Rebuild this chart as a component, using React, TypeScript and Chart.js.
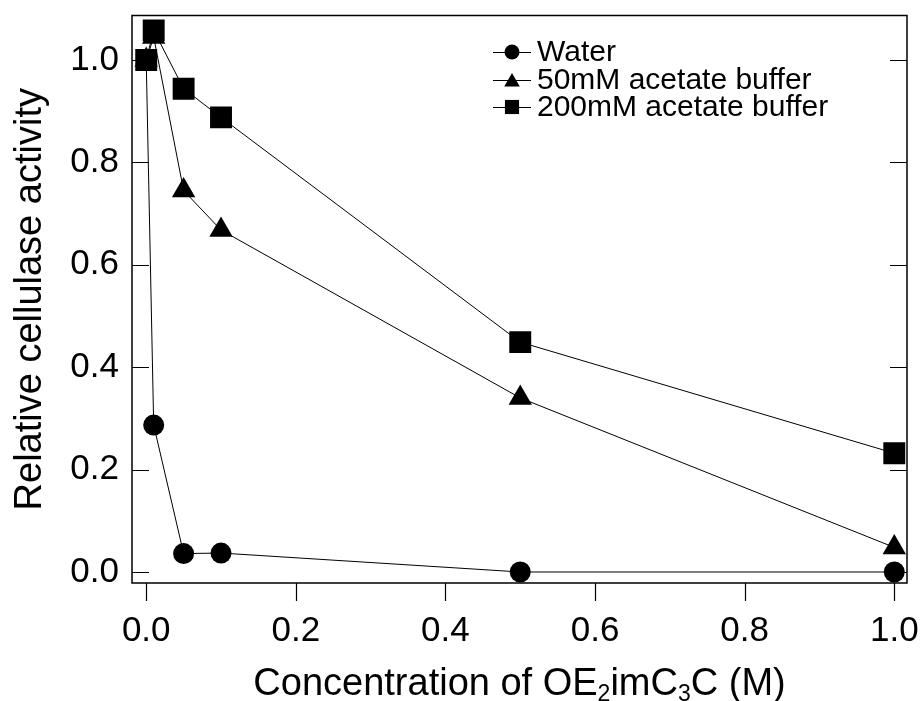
import React, { useEffect, useRef } from "react";
import { Chart, registerables } from "chart.js";

Chart.register(...registerables);

// Concentration of OE2imC3C (M)
const concentrations = [0, 0.01, 0.05, 0.1, 0.5, 1.0];

// Relative cellulase activity per medium
const waterActivity = [1.0, 0.287, 0.036, 0.037, 0.0, 0.0];
const acetate50Activity = [1.0, 1.045, 0.745, 0.668, 0.34, 0.048];
const acetate200Activity = [1.0, 1.058, 0.944, 0.888, 0.449, 0.232];

const seriesNames = ["Water", "50mM acetate buffer", "200mM acetate buffer"];
const seriesMarkers = ["circle", "triangle", "rect"];

const FONT = '"Liberation Sans", Arial, Helvetica, sans-serif';
const W = 923;
const H = 701;

function drawMarker(ctx: CanvasRenderingContext2D, style: string, x: number, y: number, r: number) {
  ctx.beginPath();
  if (style === "circle") {
    ctx.arc(x, y, r, 0, Math.PI * 2);
  } else if (style === "triangle") {
    const hw = r * Math.sin((2 * Math.PI) / 3);
    ctx.moveTo(x, y - r);
    ctx.lineTo(x + hw, y + r / 2);
    ctx.lineTo(x - hw, y + r / 2);
    ctx.closePath();
  } else {
    const s = r * Math.SQRT1_2;
    ctx.rect(x - s, y - s, 2 * s, 2 * s);
  }
  ctx.fill();
}

const framePlugin = {
  id: "frameAndDecor",
  afterDraw(chart: any) {
    const ctx: CanvasRenderingContext2D = chart.ctx;
    const { left, right, top, bottom } = chart.chartArea;
    const xs = chart.scales.x;
    const ys = chart.scales.y;
    ctx.save();
    ctx.strokeStyle = "#000";
    ctx.fillStyle = "#000";

    // plot frame
    ctx.lineWidth = 1.5;
    ctx.strokeRect(left, top, right - left, bottom - top);

    // y ticks point inward on both sides
    ctx.lineWidth = 1.2;
    ys.ticks.forEach((t: any) => {
      const py = Math.round(ys.getPixelForValue(t.value)) + 0.5;
      ctx.beginPath();
      ctx.moveTo(left, py);
      ctx.lineTo(left + 17, py);
      ctx.moveTo(right, py);
      ctx.lineTo(right - 17, py);
      ctx.stroke();
    });

    // x ticks point outward below the frame
    xs.ticks.forEach((t: any) => {
      const px = Math.round(xs.getPixelForValue(t.value)) + 0.5;
      ctx.beginPath();
      ctx.moveTo(px, bottom);
      ctx.lineTo(px, bottom + 18);
      ctx.stroke();
    });

    // legend: line segment with marker, then label
    const lx0 = 493;
    const lx1 = 531;
    const rows = [52, 80, 107];
    ctx.font = `30px ${FONT}`;
    ctx.textBaseline = "middle";
    ctx.textAlign = "left";
    seriesNames.forEach((name, i) => {
      const y = rows[i];
      ctx.lineWidth = 1;
      ctx.beginPath();
      ctx.moveTo(lx0, y + 0.5);
      ctx.lineTo(lx1, y + 0.5);
      ctx.stroke();
      const r = i === 0 ? 7.5 : i === 1 ? 9 : 10;
      drawMarker(ctx, seriesMarkers[i], (lx0 + lx1) / 2, i === 1 ? y + 2 : y, r);
      ctx.fillText(name, 537, y + 1);
    });

    // x-axis title with subscripts
    const parts: [string, boolean][] = [
      ["Concentration of OE", false],
      ["2", true],
      ["imC", false],
      ["3", true],
      ["C (M)", false],
    ];
    const mainFont = `38px ${FONT}`;
    const subFont = `23px ${FONT}`;
    let total = 0;
    parts.forEach(([s, sub]) => {
      ctx.font = sub ? subFont : mainFont;
      total += ctx.measureText(s).width;
    });
    let cx = (left + right) / 2 - total / 2;
    const baseY = 695;
    ctx.textBaseline = "alphabetic";
    parts.forEach(([s, sub]) => {
      ctx.font = sub ? subFont : mainFont;
      ctx.fillText(s, cx, sub ? baseY + 6 : baseY);
      cx += ctx.measureText(s).width;
    });

    // y-axis title, rotated
    ctx.save();
    ctx.translate(41, (top + bottom) / 2);
    ctx.rotate(-Math.PI / 2);
    ctx.font = mainFont;
    ctx.textAlign = "center";
    ctx.textBaseline = "alphabetic";
    ctx.fillText("Relative cellulase activity", 0, 0);
    ctx.restore();

    ctx.restore();
  },
};

function toPoints(values: number[]) {
  return concentrations.map((c, i) => ({ x: c, y: values[i] }));
}

function clearPadding(axis: any) {
  axis.paddingLeft = 0;
  axis.paddingRight = 0;
  axis.paddingTop = 0;
  axis.paddingBottom = 0;
}

export default function App() {
  const canvasRef = useRef<HTMLCanvasElement | null>(null);

  useEffect(() => {
    if (!canvasRef.current) return;
    const common = {
      borderColor: "#000",
      backgroundColor: "#000",
      pointBackgroundColor: "#000",
      pointBorderColor: "#000",
      borderWidth: 1,
      pointBorderWidth: 0,
      showLine: true,
      tension: 0,
    };
    const chart = new Chart(canvasRef.current, {
      type: "scatter",
      data: {
        datasets: [
          {
            ...common,
            label: seriesNames[2],
            data: toPoints(acetate200Activity),
            pointStyle: "rect",
            pointRadius: 15.5,
            order: 0,
          },
          {
            ...common,
            label: seriesNames[1],
            data: toPoints(acetate50Activity),
            pointStyle: "triangle",
            pointRadius: 13.5,
            order: 1,
          },
          {
            ...common,
            label: seriesNames[0],
            data: toPoints(waterActivity),
            pointStyle: "circle",
            pointRadius: 10.5,
            order: 2,
          },
        ],
      },
      options: {
        responsive: false,
        animation: false,
        devicePixelRatio: 1,
        layout: { padding: { left: 0, top: 15, right: 16, bottom: 0 } },
        plugins: {
          legend: { display: false },
          tooltip: { enabled: false },
        },
        scales: {
          x: {
            type: "linear",
            min: -0.019,
            max: 1.017,
            grid: { display: false, drawTicks: false },
            border: { display: false },
            ticks: {
              stepSize: 0.2,
              includeBounds: false,
              maxRotation: 0,
              autoSkip: false,
              padding: 27,
              color: "#000",
              font: { family: FONT, size: 35 },
              callback: (v: any) => Number(v).toFixed(1),
            },
            afterFit: (axis: any) => {
              axis.height = 118;
              clearPadding(axis);
            },
          },
          y: {
            type: "linear",
            min: -0.0215,
            max: 1.087,
            grid: { display: false, drawTicks: false },
            border: { display: false },
            ticks: {
              stepSize: 0.2,
              includeBounds: false,
              autoSkip: false,
              padding: 13,
              color: "#000",
              font: { family: FONT, size: 35 },
              callback: (v: any) => Number(v).toFixed(1),
            },
            afterFit: (axis: any) => {
              axis.width = 132;
              clearPadding(axis);
            },
          },
        },
      },
      plugins: [framePlugin],
    });
    return () => chart.destroy();
  }, []);

  return (
    <div style={{ position: "absolute", left: 0, top: 0, width: W, height: H, background: "#fff" }}>
      <canvas ref={canvasRef} width={W} height={H} style={{ width: W, height: H, display: "block" }} />
    </div>
  );
}
